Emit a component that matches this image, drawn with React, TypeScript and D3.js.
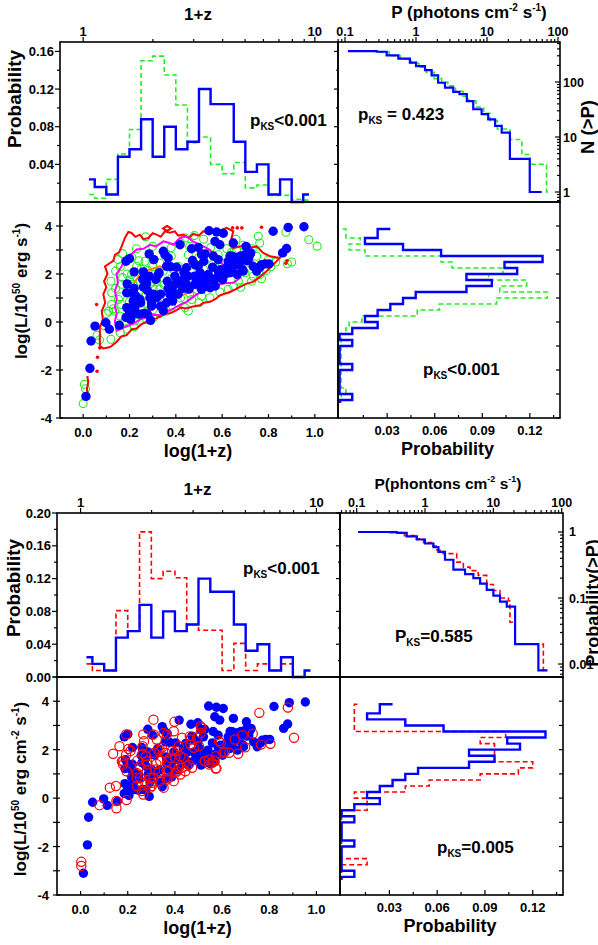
import React from "react";
import * as d3 from "d3";

const FONT = "'Liberation Sans', Arial, Helvetica, sans-serif";
const BLUE = "#0000ff";
const GREEN = "#22ee22";
const RED = "#ff0000";
const MAGENTA = "#ff00ff";
const ORANGE = "#ff8000";

// ---------- redshift histograms, bins in log(1+z) ----------
const zEdges = [0.025, 0.05, 0.1, 0.15, 0.2, 0.25, 0.3, 0.35, 0.4, 0.45, 0.5, 0.55, 0.6, 0.65, 0.7, 0.75, 0.8, 0.85, 0.9, 0.95, 0.975];
const zBlue = [0.024, 0.016, 0.008, 0.048, 0.056, 0.088, 0.048, 0.08, 0.056, 0.064, 0.12, 0.104, 0.104, 0.064, 0.032, 0.04, 0.008, 0.024, 0, 0.008];
const zGreen = [0.008, 0.004, 0.024, 0.051, 0.077, 0.15, 0.155, 0.135, 0.103, 0.063, 0.069, 0.04, 0.03, 0.042, 0.015, 0.018, 0.007, 0.007, 0.003, 0.002];
const zRed = [0.016, 0.008, 0.008, 0.081, 0.056, 0.177, 0.12, 0.129, 0.121, 0.064, 0.057, 0.057, 0.008, 0.041, 0.008, 0.016, 0.008, 0.016, 0, 0];

// ---------- luminosity histograms, bins in log L (top to bottom) ----------
const lumEdges = [3.875, 3.5, 3.25, 3.0, 2.75, 2.5, 2.25, 2.0, 1.75, 1.5, 1.25, 1.0, 0.75, 0.5, 0.25, 0, -0.25, -0.5, -0.75, -1.0, -1.25, -1.5, -1.75, -2.0, -2.25, -2.5, -2.75, -3.0, -3.25, -3.375];
const lumBlueStart = 0.032;
const lumBlue = [0.024, 0.016, 0.04, 0.064, 0.128, 0.104, 0.112, 0.08, 0.096, 0.08, 0.048, 0.04, 0.032, 0.024, 0.016, 0.024, 0.008, 0, 0.008, 0, 0, 0, 0.008, 0, 0, 0, 0, 0.008, 0];
const lumGreenStart = 0.002;
const lumGreen = [0.004, 0.013, 0.006, 0.016, 0.064, 0.071, 0.103, 0.094, 0.118, 0.101, 0.131, 0.099, 0.063, 0.049, 0.014, 0.006, 0.004, 0.001, 0.001, 0.001, 0.001, 0.001, 0.001, 0.001, 0.001, 0.001, 0.004, 0.001, 0.001];
const lumRedStart = 0.01;
const lumRed = [0.008, 0.008, 0.008, 0.008, 0.103, 0.087, 0.096, 0.096, 0.096, 0.12, 0.111, 0.087, 0.055, 0.04, 0.008, 0.016, 0.016, 0, 0, 0, 0, 0, 0, 0, 0, 0.016, 0, 0, 0];

// ---------- cumulative peak flux ----------
const cumTopBlueP = [0.11, 0.28, 0.386, 0.564, 0.82, 1.0, 1.34, 1.66, 2.05, 2.56, 3.35, 4.1, 5.2, 6.4, 8.4, 10.4, 13, 16.1, 21, 40, 59];
const cumTopBlueN = [365, 355, 305, 266, 225, 195, 165, 132, 97, 79, 66, 60, 45, 32, 26, 21, 16, 12, 4, 1, 1];
const cumTopGreenP = [0.11, 0.3, 0.42, 0.6, 0.85, 1.1, 1.4, 1.8, 2.3, 2.8, 3.6, 4.6, 5.5, 7, 9, 11, 14, 21, 31, 40, 69, 75];
const cumTopGreenN = [365, 350, 300, 260, 220, 185, 150, 115, 100, 85, 68, 55, 45, 35, 27, 20, 14, 9, 4.8, 3.2, 1, 1];
const cumBotBlueP = [0.105, 0.385, 0.54, 0.76, 1.0, 1.33, 1.57, 1.96, 2.6, 3.85, 5.1, 6.4, 8.0, 10, 12.5, 15.7, 20.8, 45.6, 62];
const cumBotBlueF = [1.0, 0.97, 0.86, 0.77, 0.67, 0.59, 0.5, 0.38, 0.27, 0.23, 0.2, 0.165, 0.133, 0.109, 0.088, 0.074, 0.02, 0.008, 0.008];
const cumBotRedP = [0.105, 0.3, 0.5, 0.7, 0.95, 1.25, 1.5, 1.85, 2.91, 3.64, 4.56, 6.0, 8.0, 10, 12.5, 16.6, 17.5, 20.8, 53.9, 60];
const cumBotRedF = [1.0, 0.98, 0.88, 0.79, 0.69, 0.61, 0.53, 0.47, 0.35, 0.294, 0.26, 0.22, 0.16, 0.13, 0.1, 0.09, 0.043, 0.02, 0.008, 0.008];

// ---------- scatter: [log(1+z), log L] ----------
const blueGrb: [number, number][] = [
  [0.012, -3.1], [0.029, -1.93], [0.034, -0.79], [0.051, -0.17], [0.098, -0.03], [0.113, -0.3], [0.156, -0.13],
  [0.185, 0.19], [0.188, 0.6], [0.2, 0.43], [0.205, 0.11], [0.188, 1.22], [0.19, 1.59], [0.185, 2.53], [0.2, 2.64], [0.215, 1.18], [0.22, 1.4], [0.22, 2.09], [0.216, 0.87], [0.223, 0.6], [0.228, 1.08], [0.245, 0.33], [0.245, 0.94], [0.248, 0.8], [0.228, 0.35],
  [0.26, 1.46], [0.257, 1.77], [0.271, 1.57], [0.277, 1.32], [0.26, 2.09], [0.274, 1.63], [0.277, 0.33], [0.263, 0.36], [0.285, 2.84], [0.285, 1.91], [0.288, 1.01], [0.295, 0.8], [0.291, 0.07], [0.295, 0.66], [0.303, 1.16], [0.305, 2.6], [0.314, 1.77], [0.317, 1.01], [0.324, 1.98], [0.328, 2.05], [0.334, 1.16], [0.334, 0.66], [0.346, 2.95], [0.346, 0.47], [0.353, 2.8],
  [0.36, 2.32], [0.36, 0.8], [0.363, 1.7], [0.367, 1.4], [0.367, 2.67], [0.374, 1.16], [0.378, 2.3], [0.386, 0.87], [0.389, 1.22], [0.396, 1.57], [0.396, 1.91], [0.403, 2.28], [0.41, 1.16], [0.418, 3.22], [0.425, 1.67], [0.43, 1.4], [0.432, 1.77], [0.435, 2.07], [0.439, 1.43], [0.446, 1.57], [0.446, 2.26], [0.453, 1.91], [0.457, 1.37],
  [0.468, 3.05], [0.472, 2.56], [0.482, 1.91], [0.483, 2.39], [0.483, 1.57], [0.49, 1.77], [0.497, 3.11], [0.497, 2.33], [0.504, 1.59], [0.505, 2.05], [0.511, 2.82], [0.511, 1.36], [0.521, 2.53], [0.526, 1.77], [0.526, 1.57], [0.526, 2.84], [0.533, 1.49], [0.533, 1.71], [0.54, 1.98], [0.543, 3.8],
  [0.548, 1.43], [0.555, 1.77], [0.559, 2.28], [0.562, 2.75], [0.569, 3.36], [0.57, 1.5], [0.576, 3.75], [0.576, 1.84], [0.583, 2.6], [0.583, 2.12], [0.59, 3.22], [0.605, 3.7], [0.593, 2.18], [0.602, 1.77], [0.605, 2.05], [0.612, 1.98], [0.619, 2.28], [0.626, 2.53], [0.629, 2.4], [0.634, 2.75], [0.634, 2.05], [0.641, 2.09], [0.643, 2.74], [0.648, 3.29], [0.648, 2.32],
  [0.655, 2.6], [0.665, 1.98], [0.665, 2.7], [0.665, 2.4], [0.674, 2.46], [0.68, 2.75], [0.687, 2.2], [0.691, 2.12], [0.698, 2.8], [0.703, 3.15], [0.706, 2.56], [0.713, 2.6], [0.72, 2.82], [0.723, 2.88], [0.734, 2.32], [0.749, 2.12], [0.763, 2.28], [0.77, 2.39], [0.785, 2.42], [0.802, 2.42], [0.82, 3.78], [0.861, 2.88], [0.878, 3.06], [0.885, 3.94], [0.953, 3.97],
];

const greenSim: [number, number][] = [
  [0.27, 3.55], [0.44, 3.5], [0.48, 3.6], [0.52, 3.45], [0.66, 3.45], [0.756, 3.57], [0.762, 3.29], [0.875, 3.74], [0.974, 3.43], [1.01, 3.16],
  [0.23, 3.05], [0.3, 3.15], [0.38, 3.1], [0.42, 3.3], [0.46, 3.15], [0.55, 3.1], [0.62, 3.05], [0.662, 3.01], [0.69, 3.2], [0.73, 3.05],
  [0.15, 2.6], [0.17, 2.85], [0.21, 2.7], [0.24, 2.55], [0.267, 2.53], [0.303, 2.6], [0.331, 2.46], [0.38, 2.75], [0.454, 2.8], [0.5, 2.7], [0.583, 2.8], [0.598, 2.46], [0.64, 2.9], [0.69, 2.6], [0.72, 2.46], [0.749, 2.74], [0.8, 2.6], [0.831, 2.5], [0.882, 2.43], [0.9, 2.5],
  [0.14, 2.12], [0.16, 2.3], [0.19, 2.0], [0.209, 1.98], [0.231, 2.32], [0.25, 2.2], [0.28, 2.15], [0.3, 2.3], [0.346, 2.12], [0.389, 2.19], [0.41, 2.32], [0.432, 2.19], [0.47, 2.05], [0.52, 2.2], [0.56, 2.4], [0.59, 1.91], [0.62, 2.15], [0.698, 2.05], [0.734, 1.91], [0.763, 1.98], [0.79, 2.15], [0.81, 2.3],
  [0.12, 1.7], [0.166, 1.57], [0.17, 1.85], [0.2, 1.75], [0.216, 1.57], [0.245, 1.7], [0.29, 1.6], [0.317, 1.7], [0.35, 1.55], [0.38, 1.8], [0.41, 1.5], [0.45, 1.7], [0.5, 1.5], [0.55, 1.6], [0.58, 1.75], [0.626, 1.36], [0.67, 1.7], [0.727, 1.7], [0.77, 1.8],
  [0.123, 1.22], [0.14, 1.4], [0.16, 1.05], [0.19, 1.3], [0.24, 1.25], [0.27, 1.15], [0.303, 1.36], [0.331, 1.36], [0.36, 1.1], [0.39, 1.3], [0.42, 1.0], [0.46, 1.2], [0.49, 1.35], [0.511, 1.08], [0.547, 1.01], [0.59, 1.25], [0.65, 1.5], [0.68, 1.45],
  [0.123, 0.73], [0.13, 0.55], [0.152, 0.94], [0.166, 0.73], [0.2, 0.85], [0.25, 0.6], [0.27, 0.75], [0.32, 0.9], [0.34, 0.6], [0.38, 0.65], [0.41, 0.8], [0.44, 0.6], [0.468, 0.94], [0.5, 0.8],
  [0.1, 0.35], [0.11, 0.45], [0.137, 0.46], [0.159, 0.25], [0.18, 0.04], [0.202, 0.11], [0.223, 0.04], [0.24, 0.3], [0.274, 0.1], [0.303, 0.19], [0.33, 0.35], [0.36, 0.45], [0.454, 0.46],
  [0.0, -3.4], [0.005, -2.6], [0.01, -2.78], [0.06, -0.55], [0.07, -0.75], [0.12, -0.72], [0.16, -0.45], [0.19, -0.3], [0.22, -0.2], [0.09, -0.15],
];

const redSim: [number, number][] = [
  [0.003, -2.63], [0.003, -2.8], [0.08, -0.29], [0.152, -0.12], [0.152, -0.42], [0.195, -0.08], [0.124, 0.43], [0.15, 0.5], [0.138, 1.83], [0.165, 2.14], [0.175, 1.52], [0.18, 1.38], [0.193, 1.79], [0.193, 2.63], [0.203, 2.03], [0.212, 1.95], [0.195, 1.11],
  [0.241, 1.55], [0.238, 1.04], [0.238, 0.5], [0.252, 0.84], [0.259, 0.29], [0.266, 2.63], [0.269, 2.35], [0.263, 2.14], [0.263, 1.83], [0.281, 1.52], [0.281, 1.11], [0.281, 0.56], [0.309, 3.24], [0.309, 2.63], [0.312, 1.87], [0.309, 0.84], [0.302, 0.5],
  [0.321, 1.41], [0.331, 1.11], [0.335, 2.0], [0.352, 2.69], [0.359, 1.87], [0.366, 1.52], [0.366, 0.77], [0.373, 1.11], [0.388, 1.95], [0.395, 2.76], [0.398, 3.15], [0.402, 1.66], [0.409, 1.11], [0.416, 2.14], [0.423, 1.73], [0.43, 1.25], [0.444, 1.11],
  [0.459, 1.38], [0.463, 2.55], [0.466, 2.21], [0.473, 1.25], [0.494, 2.49], [0.509, 2.97], [0.509, 2.69], [0.526, 1.52], [0.544, 1.59], [0.566, 1.55], [0.573, 1.22], [0.587, 2.35], [0.594, 2.28], [0.605, 1.87], [0.63, 1.87], [0.668, 1.83], [0.654, 2.42],
  [0.687, 2.6], [0.73, 2.66], [0.758, 3.52], [0.765, 2.21], [0.805, 2.24], [0.879, 3.74], [0.905, 2.49],
  [0.181, 1.53], [0.277, 1.73], [0.252, 1.32], [0.283, 1.39], [0.238, 0.84], [0.259, 0.63], [0.266, 0.15], [0.295, 0.84], [0.302, 0.63], [0.316, 1.18], [0.338, 1.53], [0.33, 1.94], [0.323, 2.42], [0.345, 2.08], [0.366, 2.62],
  [0.38, 1.66], [0.409, 1.94], [0.437, 1.66], [0.416, 1.25], [0.402, 1.04], [0.366, 1.11], [0.373, 0.84], [0.338, 0.7], [0.352, 0.43], [0.295, 0.43], [0.43, 2.49], [0.466, 2.42], [0.48, 2.08], [0.451, 1.32], [0.423, 0.97], [0.395, 0.7],
  [0.513, 2.9], [0.502, 2.14], [0.573, 1.73], [0.558, 1.46], [0.576, 1.23], [0.527, 1.53], [0.545, 1.39], [0.698, 2.1], [0.612, 1.91],
];

// density contours of the simulated sample
const contourOuter: [number, number][] = [
  [0.072, -1.0], [0.072, -0.24], [0.085, 0.1], [0.08, 0.45], [0.095, 0.8], [0.087, 1.15], [0.1, 1.45], [0.09, 1.7], [0.105, 2.0], [0.094, 2.32], [0.116, 2.46], [0.13, 2.55], [0.137, 2.8], [0.155, 2.9], [0.166, 3.15], [0.18, 3.5], [0.195, 3.75], [0.209, 3.71], [0.225, 3.55], [0.245, 3.64], [0.26, 3.45], [0.281, 3.5], [0.3, 3.7], [0.317, 3.64], [0.335, 3.55], [0.353, 3.78], [0.374, 3.72], [0.396, 3.78], [0.41, 3.6], [0.432, 3.64], [0.455, 3.5], [0.475, 3.67], [0.5, 3.6], [0.518, 3.78], [0.54, 3.7], [0.561, 3.85], [0.59, 3.8], [0.619, 3.92], [0.648, 3.78], [0.633, 3.22], [0.648, 3.08], [0.68, 3.15], [0.705, 3.29], [0.725, 3.1], [0.749, 3.15], [0.777, 2.88], [0.806, 2.74], [0.849, 2.67], [0.82, 2.39], [0.79, 2.1], [0.763, 1.88], [0.734, 1.67], [0.705, 1.6], [0.677, 1.46], [0.655, 1.35], [0.633, 1.25], [0.59, 1.11], [0.57, 0.95], [0.547, 0.84], [0.52, 0.8], [0.504, 0.7], [0.475, 0.65], [0.446, 0.56], [0.42, 0.6], [0.403, 0.49], [0.38, 0.38], [0.36, 0.35], [0.34, 0.28], [0.317, 0.15], [0.295, 0.12], [0.274, 0.01], [0.25, -0.1], [0.231, -0.27], [0.21, -0.3], [0.188, -0.55], [0.165, -0.6], [0.144, -0.83], [0.116, -1.04], [0.087, -1.1],
];
const contourMid: [number, number][] = [
  [0.137, 0.63], [0.145, 0.95], [0.137, 1.3], [0.15, 1.65], [0.144, 2.0], [0.165, 2.3], [0.18, 2.6], [0.2, 2.75], [0.231, 3.02], [0.26, 3.05], [0.288, 3.22], [0.315, 3.15], [0.346, 3.36], [0.37, 3.3], [0.389, 3.22], [0.418, 3.5], [0.446, 3.57], [0.475, 3.35], [0.504, 3.22], [0.547, 3.01], [0.57, 2.75], [0.59, 2.53], [0.62, 2.2], [0.648, 1.98], [0.677, 1.84], [0.648, 1.63], [0.62, 1.62], [0.59, 1.57], [0.533, 1.36], [0.49, 1.15], [0.446, 0.84], [0.42, 0.72], [0.389, 0.56], [0.36, 0.42], [0.331, 0.28], [0.3, 0.3], [0.274, 0.21], [0.245, 0.1], [0.216, -0.07], [0.173, -0.24], [0.144, -0.37], [0.137, 0.04], [0.145, 0.35],
];
const contourInner: [number, number][] = [
  [0.216, 1.57], [0.245, 1.98], [0.288, 2.19], [0.331, 2.32], [0.36, 2.2], [0.389, 2.23], [0.439, 2.19], [0.47, 1.95], [0.49, 1.67], [0.468, 1.27], [0.418, 1.08], [0.36, 0.8], [0.303, 0.59], [0.245, 0.45], [0.216, 0.59], [0.209, 1.15],
];
const contourTail: [number, number][] = [[0.018, -2.25], [0.022, -2.5], [0.016, -2.8], [0.02, -3.0]];
const contourBlob: [number, number][] = [[0.345, 3.9], [0.362, 4.0], [0.38, 3.9], [0.362, 3.8]];
const redDots: [number, number][] = [
  [0.058, 0.73], [0.062, -1.47], [0.072, -1.08], [0.06, -2.05], [0.645, 3.92], [0.665, 3.92], [0.685, 3.92], [0.77, 3.95], [0.85, 2.9], [0.875, 2.45], [0.88, 2.55], [0.3, 2.55],
];

// ---------- tick labels ----------
const histLabelsTop = [0.04, 0.08, 0.12, 0.16];
const histLabelsBottom = [0, 0.04, 0.08, 0.12, 0.16, 0.2];
const lumLabels = [-4, -2, 0, 2, 4];
const logzLabels = [0, 0.2, 0.4, 0.6, 0.8, 1.0];
const probLabels = [0.03, 0.06, 0.09, 0.12];
const onePlusZLabels = [1, 10];
const fluxLabels = [0.1, 1, 10, 100];
const countLabels = [1, 10, 100];
const fracLabels = [0.01, 0.1, 1];

type Geo = { x0: number; x1: number; x2: number; y0: number; y1: number; y2: number };
const geoTop: Geo = { x0: 60, x1: 338, x2: 560, y0: 42, y1: 202, y2: 418 };
const geoBot: Geo = { x0: 57, x1: 340, x2: 563, y0: 513, y1: 677, y2: 895 };

const line = d3.line();
const closed = d3.line().curve(d3.curveLinearClosed);

function zStep(edges: number[], vals: number[], x: any, y: any) {
  const pts: [number, number][] = [];
  vals.forEach((v, i) => {
    pts.push([x(edges[i]), y(v)]);
    pts.push([x(edges[i + 1]), y(v)]);
  });
  return line(pts) || "";
}

function lumStep(edges: number[], vals: number[], start: number, x: any, y: any) {
  const pts: [number, number][] = [[x(start), y(edges[0])]];
  vals.forEach((v, i) => {
    pts.push([x(v), y(edges[i])]);
    pts.push([x(v), y(edges[i + 1])]);
  });
  return line(pts) || "";
}

function cumStep(p: number[], n: number[], x: any, y: any) {
  return d3.line().curve(d3.curveStepAfter)(p.map((v, i) => [x(v), y(n[i])] as [number, number])) || "";
}

function logMinors(lo: number, hi: number) {
  const out: number[] = [];
  for (let d = Math.floor(Math.log10(lo)); d <= Math.ceil(Math.log10(hi)); d++) {
    for (let k = 1; k < 10; k++) {
      const v = k * Math.pow(10, d);
      if (v >= lo && v <= hi) out.push(v);
    }
  }
  return out;
}

function PKs({ x, y, cap, rest }: { x: number; y: number; cap?: boolean; rest: string }) {
  return (
    <text x={x} y={y} fontSize={17}>
      {cap ? "P" : "p"}
      <tspan fontSize={10} dy={4}>KS</tspan>
      <tspan dy={-4}>{rest}</tspan>
    </text>
  );
}

const fmt2 = d3.format(".2f");
const fmt1 = d3.format(".1f");

function Figure({ geo, top }: { geo: Geo; top: boolean }) {
  const { x0, x1, x2, y0, y1, y2 } = geo;
  const zx = d3.scaleLinear().domain([-0.1, 1.1]).range([x0, x1]);
  const hy = d3.scaleLinear().domain([0, top ? 0.17 : 0.2]).range([y1, y0]);
  const ly = d3.scaleLinear().domain([-4, 5]).range([y2, y1]);
  const px = d3.scaleLinear().domain([-0.001, 0.139]).range([x1, x2]);
  const cx = d3.scaleLog().domain(top ? [0.0797, 106.7] : [0.057, 104.5]).range([x1, x2]);
  const cy = d3.scaleLog().domain(top ? [0.658, 534] : [0.00636, 1.94]).range([y1, y0]);
  const toXY = (d: [number, number]) => [zx(d[0]), ly(d[1])] as [number, number];

  const histTicks = d3.range(top ? 0.02 : 0, (top ? 0.17 : 0.2) + 1e-9, 0.02);
  const histLabels = top ? histLabelsTop : histLabelsBottom;
  const lumTicks = d3.range(-4, 5.01, 1);
  const logzTicks = d3.range(0, 1.01, 0.1);
  const probTicks = d3.range(0.015, 0.136, 0.015);
  const zTop = logMinors(1, 10);
  const fluxTicks = logMinors(cx.domain()[0], cx.domain()[1]);
  const rightTicks = logMinors(cy.domain()[0], cy.domain()[1]);
  const rightLabels = top ? countLabels : fracLabels;

  const k = "black";
  const sw = 1.2;

  return (
    <g>
      {/* top-left: redshift histogram */}
      <path d={zStep(zEdges, top ? zGreen : zRed, zx, hy)} fill="none" stroke={top ? GREEN : RED} strokeWidth={1.6} strokeDasharray="5 3" />
      <path d={zStep(zEdges, zBlue, zx, hy)} fill="none" stroke={BLUE} strokeWidth={2.4} />

      {/* top-right: cumulative peak flux */}
      <path d={top ? cumStep(cumTopGreenP, cumTopGreenN, cx, cy) : cumStep(cumBotRedP, cumBotRedF, cx, cy)} fill="none" stroke={top ? GREEN : RED} strokeWidth={1.6} strokeDasharray="5 3" />
      <path d={top ? cumStep(cumTopBlueP, cumTopBlueN, cx, cy) : cumStep(cumBotBlueP, cumBotBlueF, cx, cy)} fill="none" stroke={BLUE} strokeWidth={2.2} />

      {/* bottom-right: luminosity histogram */}
      <path d={top ? lumStep(lumEdges, lumGreen, lumGreenStart, px, ly) : lumStep(lumEdges, lumRed, lumRedStart, px, ly)} fill="none" stroke={top ? GREEN : RED} strokeWidth={1.6} strokeDasharray="5 3" />
      <path d={lumStep(lumEdges, lumBlue, lumBlueStart, px, ly)} fill="none" stroke={BLUE} strokeWidth={2.4} />

      {/* bottom-left: scatter */}
      <g clipPath={top ? "url(#clipTop)" : "url(#clipBot)"}>
        {top && (
          <>
            {greenSim.map((d, i) => (
              <circle key={"g" + i} cx={zx(d[0])} cy={ly(d[1])} r={4} fill="none" stroke={GREEN} strokeWidth={1.1} />
            ))}
            <path d={closed(contourOuter.map(toXY)) || ""} fill="none" stroke={RED} strokeWidth={2} />
            <path d={closed(contourBlob.map(toXY)) || ""} fill="none" stroke={RED} strokeWidth={2} />
            <path d={line(contourTail.map(toXY)) || ""} fill="none" stroke={RED} strokeWidth={2} />
            <path d={closed(contourMid.map(toXY)) || ""} fill="none" stroke={MAGENTA} strokeWidth={2} />
            <path d={closed(contourInner.map(toXY)) || ""} fill="none" stroke={ORANGE} strokeWidth={2} />
            {redDots.map((d, i) => (
              <circle key={"rd" + i} cx={zx(d[0])} cy={ly(d[1])} r={1.8} fill={RED} />
            ))}
          </>
        )}
        {blueGrb.map((d, i) => (
          <circle key={"b" + i} cx={zx(d[0])} cy={ly(d[1])} r={4.7} fill={BLUE} />
        ))}
        {!top &&
          redSim.map((d, i) => (
            <circle key={"r" + i} cx={zx(d[0])} cy={ly(d[1])} r={4.6} fill="none" stroke={RED} strokeWidth={1.2} />
          ))}
      </g>

      {/* frames */}
      <rect x={x0} y={y0} width={x1 - x0} height={y1 - y0} fill="none" stroke={k} strokeWidth={1.6} />
      <rect x={x1} y={y0} width={x2 - x1} height={y1 - y0} fill="none" stroke={k} strokeWidth={1.6} />
      <rect x={x0} y={y1} width={x1 - x0} height={y2 - y1} fill="none" stroke={k} strokeWidth={1.6} />
      <rect x={x1} y={y1} width={x2 - x1} height={y2 - y1} fill="none" stroke={k} strokeWidth={1.6} />

      {/* histogram y ticks */}
      {histTicks.map((v, i) => {
        const major = histLabels.some((l) => Math.abs(l - v) < 1e-6);
        return (
          <g key={"ht" + i}>
            <line x1={x0 - (major ? 5 : 3)} x2={x0} y1={hy(v)} y2={hy(v)} stroke={k} strokeWidth={sw} />
            <line x1={x1 - (major ? 4 : 2)} x2={x1} y1={hy(v)} y2={hy(v)} stroke={k} strokeWidth={sw} />
          </g>
        );
      })}
      {histLabels.map((v) => (
        <text key={"hl" + v} x={x0 - 6} y={hy(v) + 4.5} fontSize={13} textAnchor="end">{fmt2(v)}</text>
      ))}

      {/* 1+z top axis */}
      {zTop.map((v) => (
        <line key={"zt" + v} x1={zx(Math.log10(v))} x2={zx(Math.log10(v))} y1={y0} y2={y0 - (v === 1 || v === 10 ? 5 : 3)} stroke={k} strokeWidth={sw} />
      ))}
      {onePlusZLabels.map((v) => (
        <text key={"zl" + v} x={zx(Math.log10(v))} y={y0 - 6} fontSize={13} textAnchor="middle">{v}</text>
      ))}
      <text x={(x0 + x1) / 2 - 1} y={top ? y0 - 22 : y0 - 18} fontSize={17} textAnchor="middle">1+z</text>

      {/* peak flux top axis */}
      {fluxTicks.map((v, i) => {
        const major = fluxLabels.includes(v);
        return <line key={"ft" + i} x1={cx(v)} x2={cx(v)} y1={y0} y2={y0 - (major ? 5 : 3)} stroke={k} strokeWidth={sw} />;
      })}
      {fluxLabels.map((v) => (
        <text key={"fl" + v} x={cx(v)} y={y0 - 6} fontSize={12.5} textAnchor="middle">{v}</text>
      ))}
      {top ? (
        <text x={469} y={y0 - 24} fontSize={17} textAnchor="middle">
          P (photons cm<tspan dy={-7} fontSize={10}>-2</tspan>
          <tspan dy={7}> s</tspan>
          <tspan dy={-7} fontSize={10}>-1</tspan>
          <tspan dy={7}>)</tspan>
        </text>
      ) : (
        <text x={448} y={y0 - 24} fontSize={15.5} textAnchor="middle">
          P(phontons cm<tspan dy={-7} fontSize={9}>-2</tspan>
          <tspan dy={7}> s</tspan>
          <tspan dy={-7} fontSize={9}>-1</tspan>
          <tspan dy={7}>)</tspan>
        </text>
      )}

      {/* cumulative right axis */}
      {rightTicks.map((v, i) => {
        const major = rightLabels.some((l) => Math.abs(l - v) / l < 1e-6);
        return <line key={"rt" + i} x1={x2 - (major ? 5 : 3)} x2={x2} y1={cy(v)} y2={cy(v)} stroke={k} strokeWidth={sw} />;
      })}
      {rightLabels.map((v) => (
        <text key={"rl" + v} x={x2 + (top ? 3 : 6)} y={cy(v) + 4.5} fontSize={12.5}>{v}</text>
      ))}
      {top ? (
        <text transform={`translate(594,${(y0 + y1) / 2 + 5}) rotate(-90)`} fontSize={18.5} textAnchor="middle">N (&gt;P)</text>
      ) : (
        <text transform={`translate(599,${(y0 + y1) / 2 + 8}) rotate(-90)`} fontSize={18} textAnchor="middle">Probability(&gt;P)</text>
      )}

      {/* scatter y axis */}
      {lumTicks.map((v) => (
        <g key={"lt" + v}>
          <line x1={x0 - 4} x2={x0 + 3} y1={ly(v)} y2={ly(v)} stroke={k} strokeWidth={sw} />
          <line x1={x2 - 4} x2={x2} y1={ly(v)} y2={ly(v)} stroke={k} strokeWidth={sw} />
        </g>
      ))}
      {lumLabels.map((v) => (
        <text key={"ll" + v} x={x0 - 8} y={ly(v) + 5} fontSize={13} textAnchor="end">{v}</text>
      ))}

      {/* scatter x axis */}
      {logzTicks.map((v, i) => (
        <line key={"xt" + i} x1={zx(v)} x2={zx(v)} y1={y2} y2={y2 - (i % 2 === 0 ? 4 : 2.5)} stroke={k} strokeWidth={sw} />
      ))}
      {logzLabels.map((v) => (
        <text key={"xl" + v} x={zx(v)} y={y2 + 19} fontSize={13} textAnchor="middle">{fmt1(v)}</text>
      ))}
      <text x={(x0 + x1) / 2 - 1} y={y2 + 39} fontSize={18} textAnchor="middle">log(1+z)</text>

      {/* probability x axis */}
      {probTicks.map((v, i) => (
        <line key={"pt" + i} x1={px(v)} x2={px(v)} y1={y2} y2={y2 - (i % 2 === 1 ? 5 : 3)} stroke={k} strokeWidth={sw} />
      ))}
      {probLabels.map((v) => (
        <text key={"pl" + v} x={px(v)} y={y2 + 17} fontSize={13} textAnchor="middle">{fmt2(v)}</text>
      ))}
      <text x={px(0.068)} y={y2 + 37} fontSize={18} textAnchor="middle">Probability</text>

      {/* y titles */}
      <text transform={`translate(${top ? 21 : 20},${top ? 99 : 588}) rotate(-90)`} fontSize={19} textAnchor="middle">Probability</text>
      {top ? (
        <text transform={`translate(27,291) rotate(-90)`} fontSize={17} textAnchor="middle">
          log(L/10<tspan dy={-7} fontSize={10}>50</tspan>
          <tspan dy={7}> erg s</tspan>
          <tspan dy={-7} fontSize={10}>-1</tspan>
          <tspan dy={7}>)</tspan>
        </text>
      ) : (
        <text transform={`translate(26,789) rotate(-90)`} fontSize={17} textAnchor="middle">
          log(L/10<tspan dy={-7} fontSize={10}>50</tspan>
          <tspan dy={7}> erg cm</tspan>
          <tspan dy={-7} fontSize={10}>-2</tspan>
          <tspan dy={7}> s</tspan>
          <tspan dy={-7} fontSize={10}>-1</tspan>
          <tspan dy={7}>)</tspan>
        </text>
      )}

      {/* KS annotations */}
      {top ? (
        <>
          <PKs x={250} y={126} rest="<0.001" />
          <PKs x={358} y={120} rest=" = 0.423" />
          <PKs x={423} y={375} rest="<0.001" />
        </>
      ) : (
        <>
          <PKs x={243} y={574} rest="<0.001" />
          <PKs x={395} y={642} cap rest="=0.585" />
          <PKs x={437} y={853} rest="=0.005" />
        </>
      )}
    </g>
  );
}

export default function App() {
  return (
    <svg
      width={598}
      height={945}
      viewBox="0 0 598 945"
      style={{ position: "absolute", left: 0, top: 0, background: "#fff" }}
      fontFamily={FONT}
      fontWeight="bold"
    >
      <defs>
        <clipPath id="clipTop">
          <rect x={geoTop.x0} y={geoTop.y1} width={geoTop.x1 - geoTop.x0} height={geoTop.y2 - geoTop.y1} />
        </clipPath>
        <clipPath id="clipBot">
          <rect x={geoBot.x0} y={geoBot.y1} width={geoBot.x1 - geoBot.x0} height={geoBot.y2 - geoBot.y1} />
        </clipPath>
      </defs>
      <rect x={0} y={0} width={598} height={945} fill="#fff" />
      <Figure geo={geoTop} top={true} />
      <Figure geo={geoBot} top={false} />
    </svg>
  );
}
